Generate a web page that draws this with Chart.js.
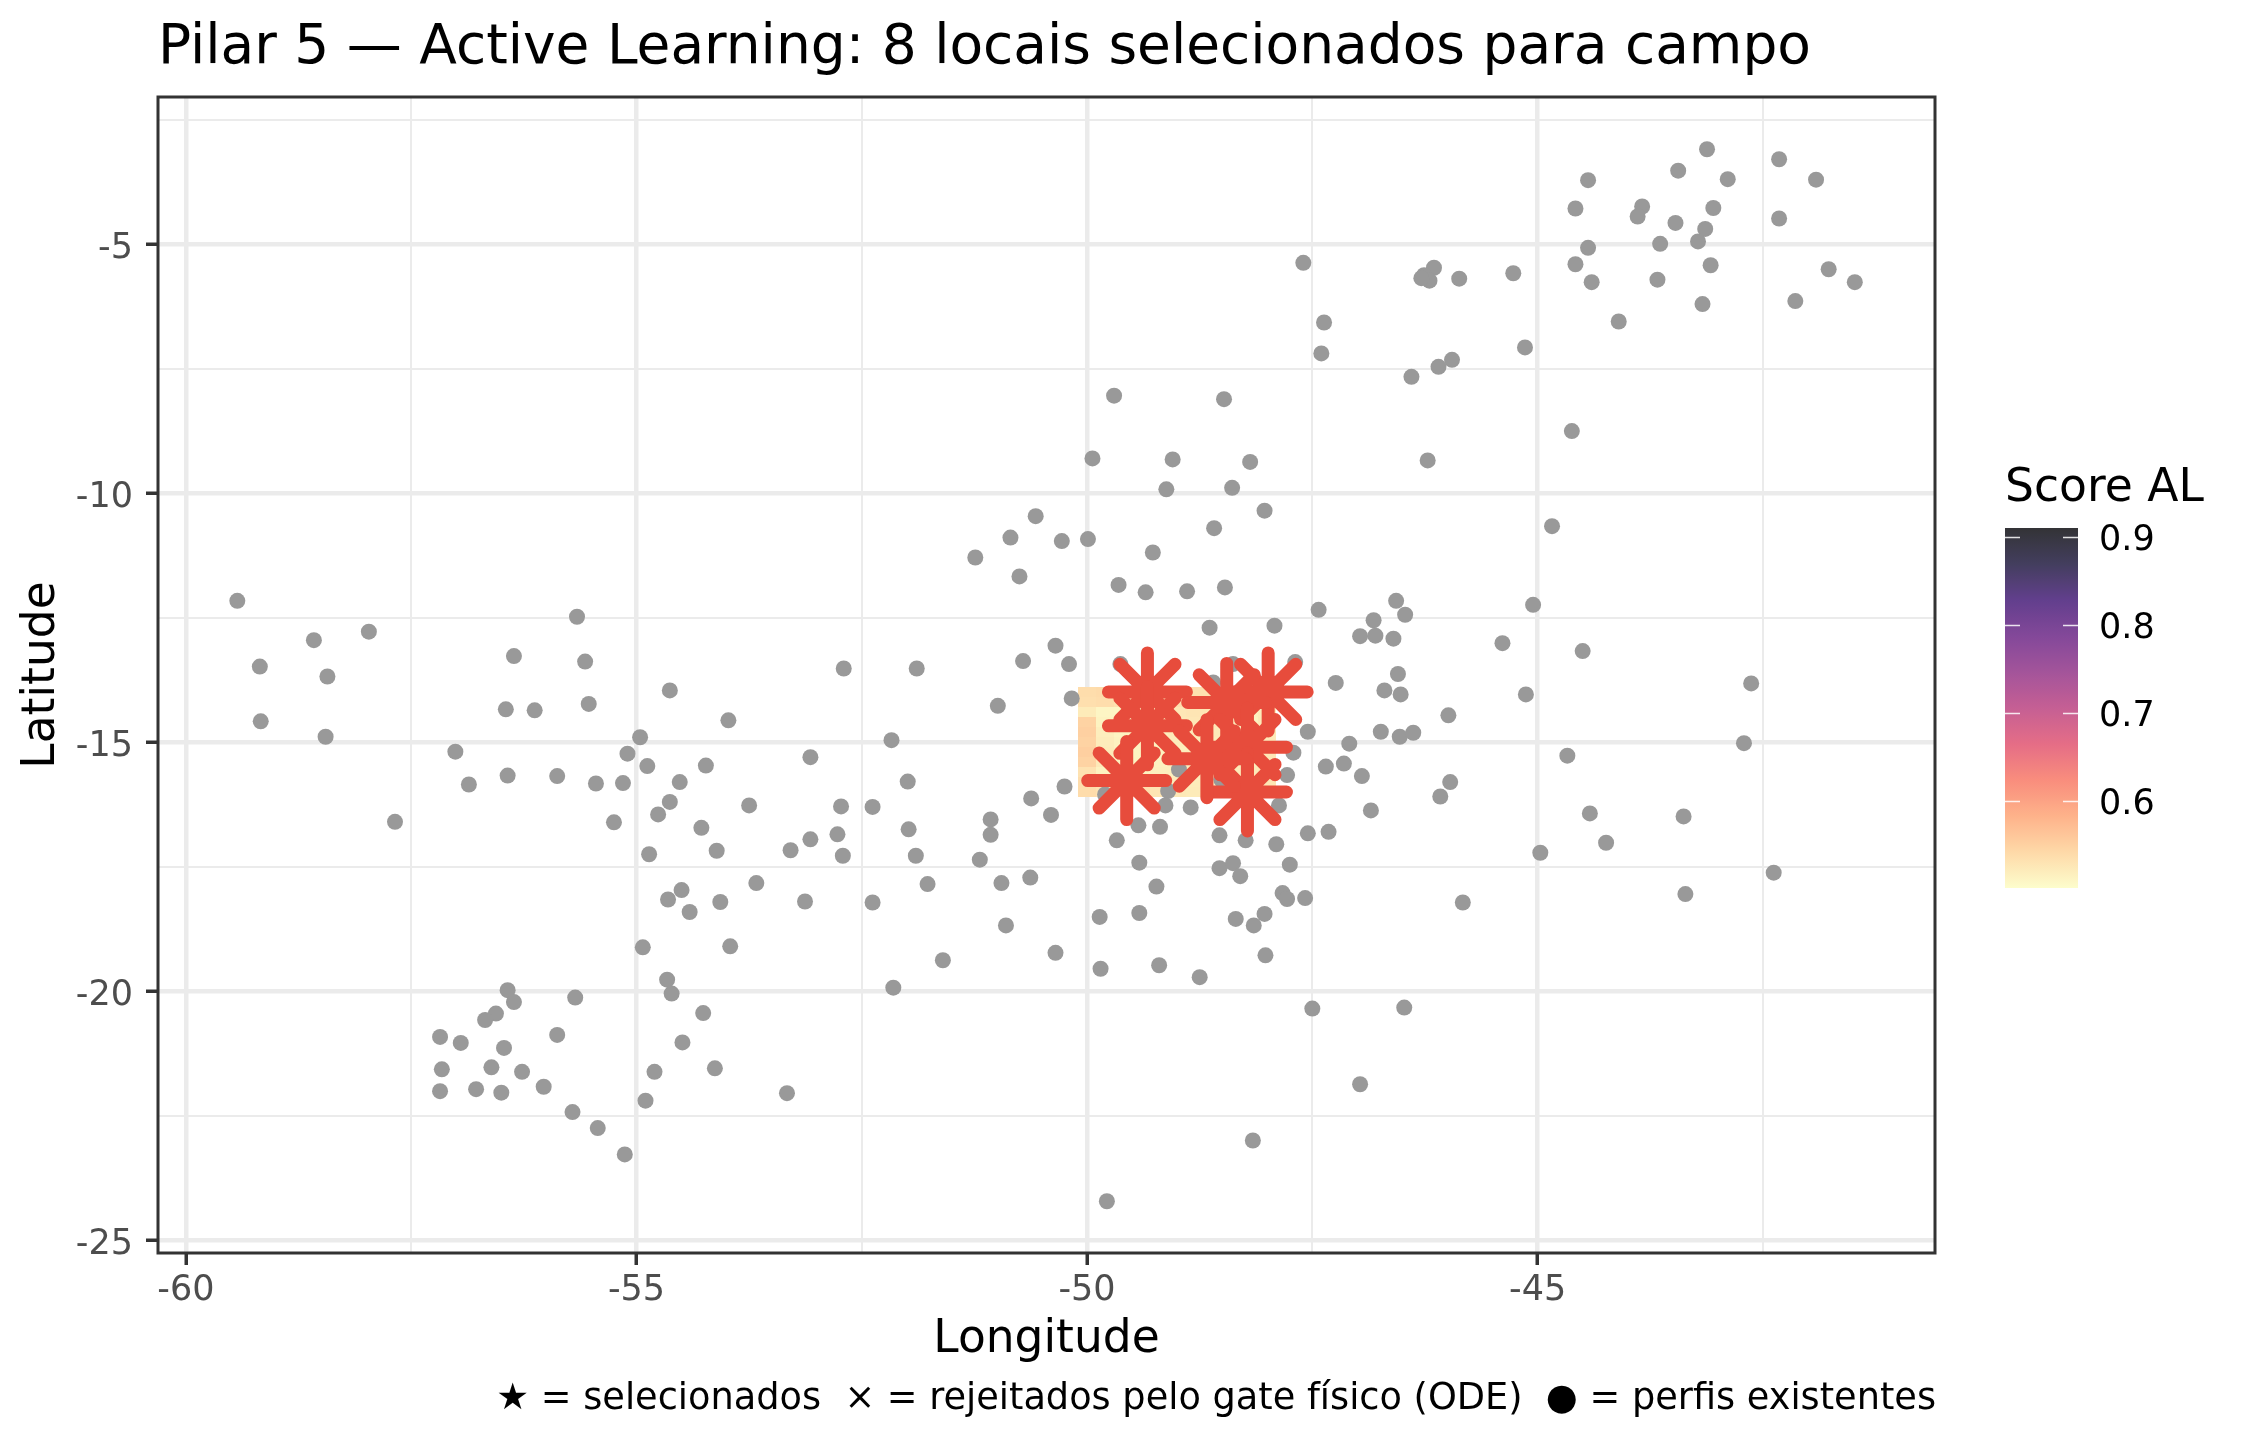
<!DOCTYPE html>
<html>
<head>
<meta charset="utf-8">
<title>Pilar 5 — Active Learning</title>
<script src="https://cdn.jsdelivr.net/npm/chart.js@4/dist/chart.umd.min.js"></script>
<style>
  html, body { margin: 0; padding: 0; background: #fff; }
  canvas { display: block; }
</style>
</head>
<body>
<canvas id="chart" width="2250" height="1440"></canvas>
<script>
const titleText = "Pilar 5 — Active Learning: 8 locais selecionados para campo"
const captionText = "★ = selecionados  × = rejeitados pelo gate físico (ODE)  ● = perfis existentes"
const fontName = "'DejaVu Sans'"

const xTicks = [-60, -57.5, -55, -52.5, -50, -47.5, -45, -42.5]
const yTicks = [-2.5, -5, -7.5, -10, -12.5, -15, -17.5, -20, -22.5, -25]
const xLabelled = [-60, -55, -50, -45]
const yLabelled = [-5, -10, -15, -20, -25]

// perfis existentes
const profileLon = [
  -59.43, -57.97, -58.58, -59.18, -58.43, -59.17, -58.45, -55.66, -56.36, -55.57,
  -54.63, -56.45, -56.13, -55.53, -53.98, -54.96, -57.01, -55.10, -54.88, -54.23,
  -54.52, -56.86, -56.43, -55.88, -55.45, -55.15, -54.63, -54.76, -55.25, -53.75,
  -57.68, -54.28, -54.11, -54.86, -54.50, -54.65, -54.07, -53.67, -54.41, -53.13,
  -54.93, -53.96, -54.66, -54.61, -54.26, -55.68, -56.43, -56.36, -56.56, -56.68,
  -57.18, -56.95, -56.47, -55.88, -54.49, -57.16, -56.61, -56.27, -54.13, -54.80,
  -57.18, -56.78, -56.50, -56.03, -54.90, -53.33, -55.71, -55.43, -55.13, -53.29,
  -53.07, -52.77, -52.73, -52.71,
  -49.70, -48.48, -49.94, -49.05, -48.19, -49.12, -48.39, -48.03, -50.57, -50.85,
  -50.28, -49.99, -51.24, -48.59, -49.27, -50.75, -49.65, -49.35, -48.89, -48.47,
  -47.43, -47.92, -48.64, -50.35, -50.71, -50.20, -49.63, -48.38, -47.69, -48.60,
  -47.24, -50.17, -50.99, -47.55, -52.17, -53.07, -47.71, -51.99, -50.25, -50.62,
  -52.70, -51.89, -47.35, -47.15, -47.78, -48.98, -49.10, -49.80, -48.51, -50.40,
  -49.13, -48.85, -47.87, -46.85, -49.43, -49.19, -49.67, -48.53, -48.24, -47.90,
  -47.55, -47.32, -49.42, -48.53, -48.38, -48.30, -47.75, -49.23, -52.38, -51.07,
  -51.07, -51.98, -51.90, -51.19, -51.77, -50.95, -50.63, -52.38, -50.90, -49.86,
  -49.42, -48.35, -48.15, -48.03, -47.83, -47.78, -47.58, -51.60, -52.15, -50.35,
  -49.85, -49.20, -48.75, -48.02, -47.50, -46.48, -46.97, -48.16, -49.78,
  -43.12, -43.44, -42.89, -44.44, -42.32, -41.91, -44.58, -43.84, -43.89, -43.05,
  -42.32, -43.47, -43.14, -43.22, -43.64, -44.44, -44.58, -43.08, -44.40, -43.67,
  -41.77, -41.48, -42.14, -43.17, -44.10, -45.27, -45.87, -46.15, -46.26, -46.20,
  -46.29, -47.60, -47.37, -47.40, -45.95, -46.10, -46.40, -45.14, -44.62, -46.22,
  -46.57, -46.47, -46.82, -46.97, -46.80, -46.60, -45.05, -45.39, -44.50, -42.63,
  -46.55, -46.70, -46.52, -45.13, -45.99, -46.74, -46.53, -46.38, -47.09, -42.71,
  -44.67, -46.95, -45.97, -46.08, -44.42, -43.38, -44.24, -44.97, -42.38, -43.36,
  -45.83, -44.84
]
const profileLat = [
  -12.16, -12.78, -12.95, -13.48, -13.68, -14.58, -14.89, -12.48, -13.27, -13.38,
  -13.96, -14.34, -14.36, -14.23, -14.56, -14.90, -15.19, -15.23, -15.48, -15.47,
  -15.80, -15.85, -15.67, -15.68, -15.83, -15.82, -16.20, -16.45, -16.61, -16.27,
  -16.60, -16.72, -17.18, -17.25, -17.97, -18.16, -18.21, -17.83, -18.41, -18.20,
  -19.12, -19.10, -19.77, -20.05, -20.44, -20.13, -19.98, -20.22, -20.45, -20.58,
  -20.92, -21.04, -21.14, -20.88, -21.03, -21.57, -21.53, -21.62, -21.55, -21.62,
  -22.01, -21.97, -22.04, -21.92, -22.20, -22.05, -22.43, -22.75, -23.28, -17.17,
  -16.95, -16.85, -16.29, -17.28,
  -8.04, -8.11, -9.30, -9.32, -9.37, -9.92, -9.89, -10.35, -10.46, -10.89,
  -10.96, -10.92, -11.29, -10.70, -11.19, -11.67, -11.84, -11.99, -11.97, -11.89,
  -12.34, -12.66, -12.70, -13.06, -13.37, -13.43, -13.43, -13.43, -13.39, -13.80,
  -13.81, -14.12, -14.27, -14.79, -14.96, -15.30, -15.21, -15.79, -15.89, -16.13,
  -13.52, -13.52, -15.49, -15.43, -15.66, -15.55, -15.98, -16.05, -15.75, -16.46,
  -16.27, -16.31, -16.27, -16.37, -16.67, -16.70, -16.97, -16.87, -16.97, -17.05,
  -16.83, -16.80, -17.42, -17.53, -17.43, -17.69, -17.46, -17.90, -16.30, -16.55,
  -16.86, -16.75, -17.28, -17.36, -17.85, -17.83, -17.72, -18.22, -18.68, -18.51,
  -18.43, -18.55, -18.68, -18.45, -18.03, -18.15, -18.13, -19.38, -19.93, -19.23,
  -19.55, -19.48, -19.72, -19.28, -20.35, -20.33, -21.87, -23.00, -24.22,
  -3.09, -3.52, -3.69, -3.71, -3.29, -3.70, -4.28, -4.24, -4.44, -4.27,
  -4.48, -4.57, -4.69, -4.94, -4.99, -5.07, -5.40, -5.42, -5.76, -5.71,
  -5.50, -5.76, -6.14, -6.20, -6.55, -5.58, -5.69, -5.47, -5.62, -5.73,
  -5.68, -5.37, -6.57, -7.19, -7.32, -7.46, -7.66, -7.07, -8.75, -9.34,
  -12.16, -12.44, -12.55, -12.87, -12.86, -12.92, -12.24, -13.01, -13.17, -13.82,
  -13.63, -13.96, -14.04, -14.04, -14.46, -14.79, -14.89, -14.81, -15.03, -15.02,
  -15.27, -15.68, -15.80, -16.09, -16.43, -16.49, -17.02, -17.22, -17.62, -18.05,
  -18.22, -10.66
]

// 8 locais selecionados
const selectedLon = [-49.33, -49.33, -49.56, -47.99, -48.45, -48.22, -48.22, -48.67]
const selectedLat = [-13.99, -14.67, -15.77, -13.99, -14.20, -15.10, -16.00, -15.33]

// grade de candidatos
const gridLon = [-50, -49.8, -49.6, -49.4, -49.2, -49, -48.8, -48.6, -48.4, -48.2, -48]
const gridLat = [-14, -14.2, -14.4, -14.6, -14.8, -15, -15.2, -15.4, -15.6, -15.8, -16]
const gridScore = [
  [0.537, 0.539, 0.536, 0.537, 0.538, 0.536, 0.534, 0.533, 0.532, 0.532, 0.528],
  [0.535, 0.537, 0.533, 0.535, 0.537, 0.535, 0.533, 0.532, 0.531, 0.528, 0.527],
  [0.522, 0.510, 0.509, 0.518, 0.523, 0.526, 0.528, 0.528, 0.523, 0.516, 0.520],
  [0.548, 0.513, 0.510, 0.516, 0.520, 0.524, 0.526, 0.528, 0.520, 0.513, 0.523],
  [0.551, 0.518, 0.512, 0.514, 0.518, 0.522, 0.524, 0.524, 0.518, 0.516, 0.524],
  [0.548, 0.520, 0.514, 0.512, 0.516, 0.520, 0.522, 0.522, 0.520, 0.518, 0.524],
  [0.552, 0.522, 0.516, 0.512, 0.514, 0.518, 0.520, 0.520, 0.520, 0.520, 0.526],
  [0.548, 0.524, 0.516, 0.513, 0.514, 0.516, 0.518, 0.520, 0.522, 0.522, 0.526],
  [0.532, 0.514, 0.518, 0.514, 0.516, 0.516, 0.518, 0.520, 0.522, 0.524, 0.528],
  [0.538, 0.529, 0.527, 0.525, 0.524, 0.520, 0.520, 0.522, 0.524, 0.526, 0.528],
  [0.538, 0.533, 0.533, 0.536, 0.528, 0.524, 0.522, 0.524, 0.526, 0.528, 0.530]
]

// escala de cor (magma invertida) e barra da legenda
const magmaStops = ["#fcfdbf", "#fecf92", "#fe9f6d", "#f7705c", "#de4968", "#b73779", "#8c2981", "#641a80", "#3b0f70", "#140e36", "#000004"]
const fillAlpha = 0.8
const scoreMin = 0.501
const scoreMax = 0.91
const legendTicks = [0.9, 0.8, 0.7, 0.6]

const lerpStops = t => {
  const pos = Math.min(Math.max(t, 0), 1) * (magmaStops.length - 1)
  const i = Math.min(Math.floor(pos), magmaStops.length - 2)
  const f = pos - i
  const rgb = s => [1, 3, 5].map(k => parseInt(s.slice(k, k + 2), 16))
  const a = rgb(magmaStops[i]), b = rgb(magmaStops[i + 1])
  return a.map((v, k) => v + (b[k] - v) * f)
}
// cor opaca equivalente ao alpha sobre branco
const scoreColor = s => {
  const c = lerpStops((s - scoreMin) / (scoreMax - scoreMin))
  const m = c.map(v => Math.round(v * fillAlpha + 255 * (1 - fillAlpha)))
  return `rgb(${m[0]},${m[1]},${m[2]})`
}

const tilePoints = []
gridLat.forEach((lat, r) => gridLon.forEach((lon, c) => {
  tilePoints.push({ x: lon, y: lat, score: gridScore[r][c] })
}))

const tilePlugin = {
  id: "tiles",
  beforeDatasetsDraw(chart) {
    const { ctx, scales: { x, y } } = chart
    const half = 0.1
    tilePoints.forEach(p => {
      const x0 = Math.round(x.getPixelForValue(p.x - half))
      const x1 = Math.round(x.getPixelForValue(p.x + half))
      const y0 = Math.round(y.getPixelForValue(p.y + half))
      const y1 = Math.round(y.getPixelForValue(p.y - half))
      ctx.fillStyle = scoreColor(p.score)
      ctx.fillRect(x0, y0, x1 - x0, y1 - y0)
    })
  },
  // pontas redondas nos asteriscos
  beforeDatasetDraw(chart, args) {
    chart.ctx.save()
    if (chart.data.datasets[args.index].label === "selecionados") chart.ctx.lineCap = "round"
  },
  afterDatasetDraw(chart) {
    chart.ctx.restore()
  }
}

const framePlugin = {
  id: "frame",
  afterDraw(chart) {
    const { ctx, chartArea: a, scales } = chart
    ctx.save()
    // borda do painel
    ctx.strokeStyle = "#333333"
    ctx.lineWidth = 3
    ctx.strokeRect(a.left, a.top, a.right - a.left, a.bottom - a.top)

    // rótulos do eixo y
    ctx.textAlign = "right"
    ctx.textBaseline = "alphabetic"
    ctx.fillStyle = "#4D4D4D"
    ctx.font = `35px ${fontName}`
    yLabelled.forEach(v => {
      ctx.fillText(String(v), 133, scales.y.getPixelForValue(v) + 13.5)
    })

    // barra de cor
    const barLeft = 2005, barRight = 2078, barTop = 528, barBottom = 888
    const grad = ctx.createLinearGradient(0, barBottom, 0, barTop)
    for (let i = 0; i <= 40; i++) {
      grad.addColorStop(i / 40, scoreColor(scoreMin + (scoreMax - scoreMin) * i / 40))
    }
    ctx.fillStyle = grad
    ctx.fillRect(barLeft, barTop, barRight - barLeft, barBottom - barTop)

    const scoreY = v => barBottom - (v - scoreMin) / (scoreMax - scoreMin) * (barBottom - barTop)
    ctx.textAlign = "left"
    legendTicks.forEach(v => {
      const py = Math.round(scoreY(v)) + 0.5
      ctx.strokeStyle = "rgba(255,255,255,0.85)"
      ctx.lineWidth = 1.5
      ctx.beginPath()
      ctx.moveTo(barLeft, py); ctx.lineTo(barLeft + 15, py)
      ctx.moveTo(barRight - 15, py); ctx.lineTo(barRight, py)
      ctx.stroke()
      ctx.fillStyle = "#000000"
      ctx.fillText(v.toFixed(1), 2099, py + 12.5)
    })
    ctx.font = `45.6px ${fontName}`
    ctx.fillText("Score AL", 2005, 501)

    // legenda de texto
    ctx.textAlign = "right"
    ctx.font = `36.7px ${fontName}`
    ctx.fillText(captionText, 1936, 1409)
    ctx.restore()
  }
}

new Chart(document.getElementById("chart"), {
  type: "scatter",
  data: {
    datasets: [
      {
        label: "selecionados",
        data: selectedLon.map((v, i) => ({ x: v, y: selectedLat[i] })),
        pointStyle: "star",
        pointRadius: 39,
        pointBorderWidth: 13,
        pointBorderColor: "#E74C3C",
        pointBackgroundColor: "#E74C3C",
        order: 1
      },
      {
        label: "perfis",
        data: profileLon.map((v, i) => ({ x: v, y: profileLat[i] })),
        pointRadius: 8,
        pointBorderWidth: 0,
        pointBackgroundColor: "#999999",
        order: 2
      },
      {
        label: "score",
        data: tilePoints,
        pointRadius: 0,
        order: 3
      }
    ]
  },
  plugins: [tilePlugin, framePlugin],
  options: {
    responsive: false,
    animation: false,
    devicePixelRatio: 1,
    layout: {
      autoPadding: false,
      padding: { top: 0, right: 315, bottom: 0, left: 0 }
    },
    plugins: {
      legend: { display: false },
      tooltip: { enabled: false },
      title: {
        display: true,
        text: titleText,
        align: "start",
        fullSize: false,
        color: "#000000",
        font: { family: fontName, size: 55, weight: "normal" },
        padding: { top: 16, bottom: 15 }
      }
    },
    scales: {
      x: {
        type: "linear",
        min: -60.31,
        max: -40.59,
        afterFit: s => { s.height = 187 },
        afterBuildTicks: s => { s.ticks = xTicks.map(v => ({ value: v })) },
        border: { display: false },
        grid: {
          color: "#EBEBEB",
          lineWidth: c => xLabelled.includes(c.tick.value) ? 4.5 : 2,
          tickColor: c => xLabelled.includes(c.tick.value) ? "#333333" : "rgba(0,0,0,0)",
          tickWidth: 3.5,
          tickLength: 12
        },
        ticks: {
          autoSkip: false,
          maxRotation: 0,
          padding: 5,
          color: "#4D4D4D",
          font: { family: fontName, size: 35 },
          callback: v => xLabelled.includes(v) ? String(v) : ""
        },
        title: {
          display: true,
          text: "Longitude",
          color: "#000000",
          font: { family: fontName, size: 45.5 },
          padding: { top: 0, bottom: 73 }
        }
      },
      y: {
        type: "linear",
        min: -25.26,
        max: -2.04,
        afterFit: s => { s.width = 158 },
        afterBuildTicks: s => { s.ticks = yTicks.map(v => ({ value: v })) },
        border: { display: false },
        grid: {
          color: "#EBEBEB",
          lineWidth: c => yLabelled.includes(c.tick.value) ? 4.5 : 2,
          tickColor: c => yLabelled.includes(c.tick.value) ? "#333333" : "rgba(0,0,0,0)",
          tickWidth: 3.5,
          tickLength: 12
        },
        ticks: { display: false, autoSkip: false },
        title: {
          display: true,
          text: "Latitude",
          color: "#000000",
          font: { family: fontName, size: 45.5 },
          padding: { top: 15, bottom: 0 }
        }
      }
    }
  }
})
</script>
</body>
</html>
